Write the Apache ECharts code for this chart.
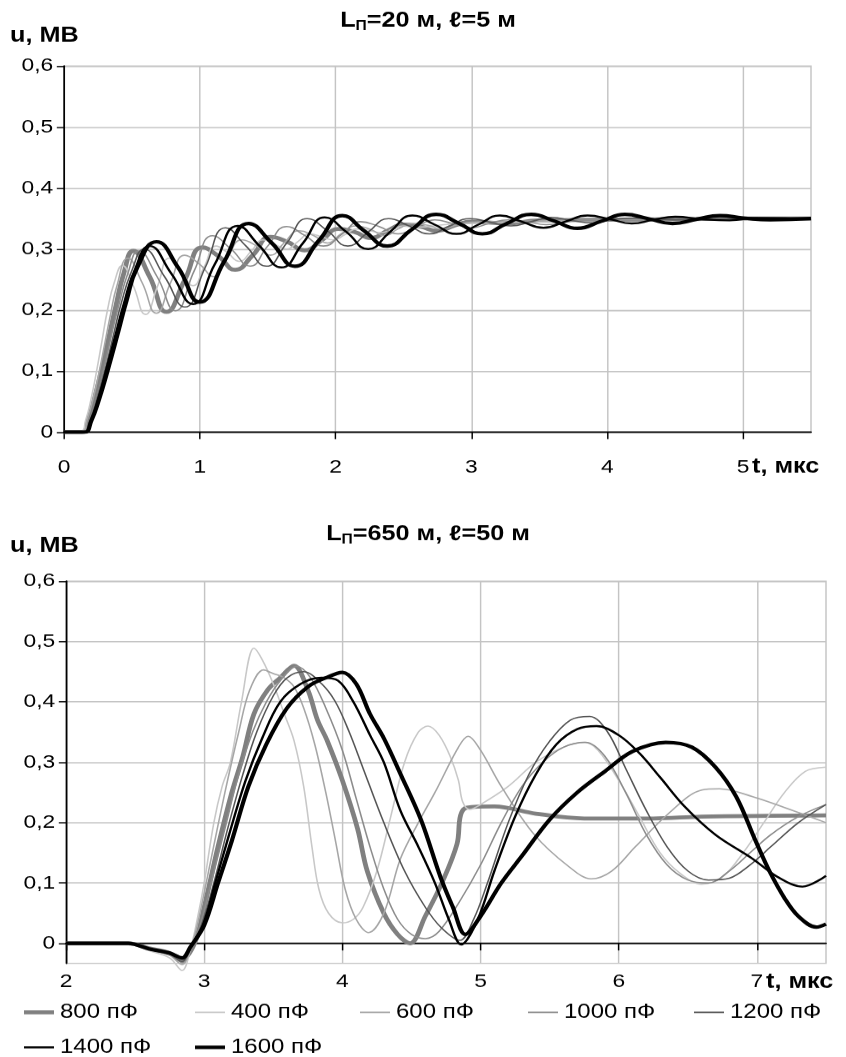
<!DOCTYPE html>
<html><head><meta charset="utf-8">
<script src="https://cdn.jsdelivr.net/npm/echarts@6/dist/echarts.min.js"></script>
<style>
html,body{margin:0;padding:0;background:#fff}
#wrap{width:846px;height:1057px;overflow:hidden}
#c{width:705px;height:1057px;transform:scaleX(1.2);transform-origin:0 0}
</style>
</head><body><div id="wrap"><div id="c"></div></div>
<script>
// ---------- DATA ----------
const seriesNames = ['800 пФ','400 пФ','600 пФ','1000 пФ','1200 пФ','1400 пФ','1600 пФ'];
const yTicks = [0,0.1,0.2,0.3,0.4,0.5,0.6];
const xTicksTop = [0,1,2,3,4,5];
const xTicksBot = [2,3,4,5,6,7];

// Top chart: L=20 m, l=5 m   [t (мкс), u (МВ)]
const top800 = [[0,0],[0.13,0],[0.18,0.02],[0.23,0.06],[0.28,0.105],[0.33,0.155],[0.38,0.205],[0.44,0.26],[0.51,0.297],[0.63,0.255],[0.755,0.197],[0.89,0.25],[1.02,0.303],[1.14,0.288],[1.26,0.266],[1.39,0.29],[1.52,0.32],[1.645,0.312],[1.77,0.298],[1.9,0.315],[2.02,0.333],[2.14,0.328],[2.26,0.318],[2.38,0.33],[2.5,0.34],[2.62,0.337],[2.75,0.33],[2.88,0.339],[3.0,0.345],[3.25,0.342],[3.5,0.347],[4.0,0.348],[4.5,0.349],[5.0,0.35],[5.5,0.35]];
const top400 = [[0,0],[0.12,0],[0.16,0.02],[0.2,0.055],[0.24,0.1],[0.28,0.15],[0.32,0.2],[0.37,0.245],[0.43,0.273],[0.51,0.24],[0.6,0.193],[0.69,0.24],[0.775,0.285],[0.86,0.265],[0.95,0.24],[1.03,0.27],[1.12,0.305],[1.2,0.295],[1.29,0.28],[1.38,0.297],[1.465,0.315],[1.55,0.308],[1.64,0.3],[1.72,0.312],[1.81,0.325],[1.9,0.32],[1.98,0.315],[2.07,0.324],[2.155,0.333],[2.24,0.331],[2.33,0.327],[2.42,0.333],[2.5,0.338],[2.6,0.336],[2.8,0.34],[3.0,0.342],[3.5,0.345],[4.0,0.347],[4.5,0.349],[5.0,0.35],[5.5,0.35]];
const top600 = [[0,0],[0.13,0],[0.17,0.02],[0.22,0.06],[0.26,0.1],[0.3,0.145],[0.34,0.19],[0.39,0.24],[0.47,0.285],[0.575,0.245],[0.68,0.195],[0.785,0.245],[0.89,0.29],[1.0,0.275],[1.1,0.255],[1.2,0.285],[1.31,0.315],[1.42,0.305],[1.52,0.29],[1.62,0.31],[1.73,0.33],[1.84,0.322],[1.94,0.31],[2.04,0.325],[2.15,0.338],[2.26,0.332],[2.36,0.322],[2.46,0.333],[2.57,0.342],[2.68,0.339],[2.78,0.333],[2.9,0.34],[3.0,0.344],[3.5,0.346],[4.0,0.348],[4.5,0.349],[5.0,0.35],[5.5,0.35]];
const top1000 = [[0,0],[0.14,0],[0.19,0.02],[0.24,0.055],[0.3,0.11],[0.35,0.16],[0.4,0.205],[0.47,0.26],[0.55,0.297],[0.685,0.255],[0.82,0.199],[0.96,0.265],[1.095,0.322],[1.23,0.3],[1.37,0.272],[1.5,0.305],[1.64,0.337],[1.775,0.322],[1.91,0.305],[2.05,0.325],[2.18,0.345],[2.32,0.337],[2.46,0.325],[2.6,0.338],[2.73,0.348],[2.86,0.342],[3.0,0.335],[3.13,0.342],[3.27,0.348],[3.41,0.345],[3.55,0.34],[3.8,0.347],[4.2,0.347],[4.6,0.35],[5.0,0.35],[5.5,0.35]];
const top1200 = [[0,0],[0.14,0],[0.19,0.018],[0.25,0.06],[0.3,0.1],[0.36,0.155],[0.42,0.21],[0.5,0.265],[0.59,0.30],[0.74,0.255],[0.89,0.205],[1.04,0.27],[1.19,0.335],[1.34,0.305],[1.49,0.272],[1.64,0.31],[1.79,0.35],[1.94,0.33],[2.09,0.305],[2.24,0.328],[2.39,0.35],[2.54,0.338],[2.69,0.325],[2.84,0.338],[2.99,0.35],[3.14,0.344],[3.29,0.338],[3.44,0.345],[3.59,0.352],[3.74,0.347],[3.89,0.343],[4.04,0.348],[4.2,0.351],[4.5,0.348],[5.0,0.35],[5.5,0.35]];
const top1400 = [[0,0],[0.15,0],[0.2,0.018],[0.26,0.06],[0.32,0.11],[0.38,0.16],[0.44,0.21],[0.52,0.265],[0.63,0.305],[0.79,0.26],[0.95,0.21],[1.11,0.275],[1.28,0.338],[1.44,0.305],[1.6,0.27],[1.76,0.31],[1.92,0.352],[2.08,0.328],[2.24,0.30],[2.4,0.328],[2.565,0.355],[2.73,0.34],[2.89,0.325],[3.05,0.34],[3.21,0.355],[3.37,0.345],[3.53,0.335],[3.69,0.345],[3.855,0.355],[4.02,0.349],[4.18,0.342],[4.34,0.348],[4.5,0.353],[4.7,0.349],[4.9,0.347],[5.1,0.351],[5.5,0.35]];
const top1600 = [[0,0],[0.15,0],[0.2,0.018],[0.26,0.055],[0.32,0.1],[0.4,0.165],[0.46,0.215],[0.54,0.27],[0.68,0.312],[0.84,0.27],[1.0,0.213],[1.18,0.28],[1.36,0.342],[1.53,0.31],[1.7,0.272],[1.88,0.315],[2.05,0.355],[2.21,0.33],[2.38,0.305],[2.56,0.332],[2.74,0.357],[2.91,0.342],[3.08,0.325],[3.26,0.342],[3.44,0.357],[3.61,0.346],[3.78,0.334],[3.96,0.346],[4.13,0.357],[4.3,0.35],[4.48,0.342],[4.66,0.349],[4.83,0.355],[5.0,0.351],[5.2,0.348],[5.5,0.35]];

// Bottom chart: L=650 m, l=50 m
const bot800 = [[2,0],[2.45,0],[2.6,-0.008],[2.75,-0.016],[2.84,-0.026],[2.93,0],[3.0,0.06],[3.1,0.16],[3.2,0.25],[3.28,0.31],[3.36,0.38],[3.46,0.42],[3.55,0.44],[3.65,0.46],[3.75,0.42],[3.82,0.37],[3.89,0.336],[4.0,0.27],[4.11,0.19],[4.18,0.12],[4.3,0.05],[4.4,0.015],[4.49,0.0],[4.6,0.045],[4.72,0.1],[4.83,0.165],[4.855,0.212],[4.9,0.225],[5.1,0.227],[5.4,0.215],[5.75,0.207],[6.25,0.207],[6.6,0.21],[7.5,0.212]];
const bot400 = [[2,0],[2.45,0],[2.6,-0.012],[2.75,-0.024],[2.84,-0.045],[2.9,-0.01],[2.95,0.04],[3.0,0.1],[3.07,0.2],[3.13,0.26],[3.19,0.3],[3.27,0.4],[3.36,0.489],[3.42,0.47],[3.5,0.43],[3.58,0.38],[3.65,0.336],[3.72,0.26],[3.78,0.16],[3.83,0.09],[3.9,0.05],[4.0,0.034],[4.08,0.04],[4.15,0.06],[4.25,0.12],[4.35,0.21],[4.45,0.3],[4.55,0.35],[4.62,0.36],[4.7,0.345],[4.78,0.31],[4.84,0.27],[4.87,0.235],[4.92,0.222],[5.0,0.23],[5.2,0.26],[5.4,0.3],[5.6,0.325],[5.75,0.333],[5.85,0.32],[6.0,0.27],[6.15,0.21],[6.3,0.15],[6.45,0.115],[6.6,0.098],[6.75,0.11],[6.9,0.15],[7.05,0.2],[7.2,0.25],[7.35,0.285],[7.5,0.292]];
const bot600 = [[2,0],[2.45,0],[2.6,-0.01],[2.75,-0.02],[2.84,-0.035],[2.9,-0.01],[2.95,0.03],[3.05,0.14],[3.15,0.25],[3.25,0.35],[3.33,0.42],[3.43,0.453],[3.5,0.447],[3.58,0.44],[3.65,0.425],[3.72,0.39],[3.8,0.33],[3.88,0.25],[3.95,0.17],[4.02,0.09],[4.1,0.04],[4.19,0.018],[4.3,0.05],[4.42,0.14],[4.55,0.2],[4.67,0.25],[4.84,0.325],[4.91,0.343],[5.0,0.32],[5.15,0.26],[5.39,0.18],[5.64,0.127],[5.8,0.107],[5.95,0.12],[6.12,0.16],[6.36,0.215],[6.6,0.254],[6.73,0.256],[6.97,0.243],[7.2,0.225],[7.5,0.2]];
const bot1000 = [[2,0],[2.45,0],[2.6,-0.01],[2.75,-0.018],[2.84,-0.032],[2.9,-0.01],[2.97,0.03],[3.05,0.1],[3.15,0.19],[3.25,0.28],[3.35,0.35],[3.45,0.4],[3.55,0.435],[3.67,0.459],[3.77,0.44],[3.88,0.39],[4.0,0.32],[4.1,0.24],[4.2,0.16],[4.3,0.09],[4.4,0.04],[4.5,0.015],[4.6,0.008],[4.7,0.02],[4.85,0.07],[5.0,0.13],[5.15,0.2],[5.3,0.26],[5.45,0.3],[5.6,0.325],[5.76,0.333],[5.9,0.31],[6.05,0.25],[6.2,0.18],[6.35,0.13],[6.5,0.105],[6.65,0.1],[6.8,0.12],[6.95,0.15],[7.1,0.18],[7.3,0.21],[7.5,0.23]];
const bot1200 = [[2,0],[2.45,0],[2.6,-0.01],[2.75,-0.018],[2.84,-0.03],[2.9,-0.008],[2.98,0.03],[3.07,0.1],[3.17,0.19],[3.28,0.28],[3.38,0.35],[3.5,0.41],[3.6,0.44],[3.72,0.45],[3.85,0.43],[3.95,0.4],[4.05,0.35],[4.15,0.29],[4.3,0.2],[4.45,0.12],[4.6,0.06],[4.72,0.025],[4.85,0.005],[4.95,0.04],[5.05,0.1],[5.2,0.2],[5.35,0.28],[5.5,0.335],[5.65,0.37],[5.79,0.376],[5.92,0.35],[6.05,0.29],[6.2,0.22],[6.35,0.16],[6.5,0.12],[6.65,0.105],[6.8,0.108],[6.95,0.13],[7.1,0.16],[7.3,0.2],[7.5,0.23]];
const bot1400 = [[2,0],[2.45,0],[2.6,-0.009],[2.75,-0.016],[2.84,-0.024],[2.9,-0.006],[2.99,0.03],[3.08,0.1],[3.18,0.18],[3.3,0.27],[3.42,0.34],[3.55,0.4],[3.7,0.43],[3.85,0.44],[3.97,0.435],[4.08,0.4],[4.2,0.345],[4.3,0.3],[4.42,0.22],[4.55,0.16],[4.67,0.1],[4.77,0.04],[4.86,-0.002],[4.98,0.04],[5.1,0.12],[5.25,0.21],[5.4,0.28],[5.55,0.33],[5.7,0.355],[5.84,0.36],[6.0,0.345],[6.15,0.315],[6.3,0.275],[6.48,0.226],[6.7,0.18],[6.97,0.14],[7.15,0.11],[7.33,0.094],[7.5,0.112]];
const bot1600 = [[2,0],[2.45,0],[2.6,-0.009],[2.75,-0.016],[2.84,-0.024],[2.9,-0.006],[3.0,0.03],[3.1,0.1],[3.2,0.17],[3.32,0.26],[3.45,0.33],[3.6,0.39],[3.75,0.425],[3.88,0.44],[4.0,0.449],[4.1,0.43],[4.2,0.38],[4.3,0.34],[4.42,0.281],[4.57,0.204],[4.71,0.11],[4.8,0.06],[4.89,0.015],[5.0,0.045],[5.15,0.1],[5.3,0.145],[5.5,0.205],[5.7,0.25],[5.9,0.285],[6.1,0.318],[6.34,0.333],[6.53,0.325],[6.7,0.292],[6.85,0.243],[6.99,0.17],[7.09,0.12],[7.2,0.075],[7.3,0.045],[7.43,0.027],[7.5,0.032]];

const topData = [top800, top400, top600, top1000, top1200, top1400, top1600];
const botData = [bot800, bot400, bot600, bot1000, bot1200, bot1400, bot1600];

// ---------- STYLE ----------
const SX = 1.2; // horizontal stretch of the reference picture
const F = "'Liberation Sans', Arial, sans-serif";
const lineStyles = [
  {color:'#808080', width:4},
  {color:'#c8c8c8', width:1.3},
  {color:'#a6a6a6', width:1.3},
  {color:'#8c8c8c', width:1.3},
  {color:'#555555', width:1.3},
  {color:'#000000', width:2},
  {color:'#000000', width:3.5}
];
const gridColor = '#c4c4c4';
const yFmt = v => v === 0 ? '0' : v.toFixed(1).replace('.', ',');
const px = v => v / SX;

function xAxisCfg(idx, min, max, ticks, margin) {
  return {
    type:'value', gridIndex:idx, min:min, max:max,
    axisLine:{show:true, onZero:true, lineStyle:{color:'#000', width:1.5}},
    axisTick:{show:true, length:7, customValues:ticks, lineStyle:{color:'#000', width:1.2}},
    axisLabel:{customValues:ticks, color:'#000', fontSize:19, fontFamily:F, margin:margin},
    splitLine:{show:true, lineStyle:{color:gridColor, width:1.2}}
  };
}
function yAxisCfg(idx, min) {
  return {
    type:'value', gridIndex:idx, min:min, max:0.6,
    axisLine:{show:true, lineStyle:{color:'#000', width:1.4}},
    axisTick:{show:true, length:6, customValues:yTicks, lineStyle:{color:'#000', width:1.2}},
    axisLabel:{customValues:yTicks, color:'#000', fontSize:19, fontFamily:F, margin:9, formatter:yFmt},
    splitLine:{show:true, lineStyle:{color:gridColor, width:1.3}}
  };
}

const series = [];
seriesNames.forEach((n, i) => {
  const ls = lineStyles[i];
  series.push({name:n, type:'line', xAxisIndex:0, yAxisIndex:0, data:topData[i],
    showSymbol:false, smooth:0.5, z:2+i,
    lineStyle:{color:ls.color, width:ls.width}, itemStyle:{color:ls.color}, animation:false});
  series.push({name:n, type:'line', xAxisIndex:1, yAxisIndex:1, data:botData[i],
    showSymbol:false, smooth:0.35, clip:false, z:2+i,
    lineStyle:{color:ls.color, width:ls.width}, itemStyle:{color:ls.color}, animation:false});
});

const legendPos = [[24,1002],[195,1002],[360,1002],[528,1002],[694,1002],[24,1037],[195,1037]];
const legends = seriesNames.map((n, i) => ({
  data:[n], left:px(legendPos[i][0]), top:legendPos[i][1], padding:0,
  icon:'rect', itemWidth:px(30), itemHeight:Math.max(1.5, lineStyles[i].width),
  textStyle:{color:'#000', fontSize:20, fontFamily:F}, selectedMode:false
}));

const rich = {
  a:{fontSize:21, fontWeight:'bold', fontFamily:F, fill:'#000'},
  s:{fontSize:13, fontWeight:'bold', fontFamily:F, fill:'#000', padding:[11,0,0,0]}
};
function boldText(x, y, t) {
  return {type:'text', x:px(x), y:y, style:{text:t, font:'bold 21px ' + F, fill:'#000', verticalAlign:'middle'}};
}

const option = {
  backgroundColor:'#fff',
  animation:false,
  grid:[
    {left:px(64), top:66, width:px(747), height:366, show:true, borderColor:gridColor, borderWidth:1.2, containLabel:false},
    {left:px(66), top:581, width:px(760), height:382, show:true, borderColor:gridColor, borderWidth:1.2, containLabel:false}
  ],
  xAxis:[xAxisCfg(0, 0, 5.5, xTicksTop, 26), xAxisCfg(1, 2, 7.5, xTicksBot, 9)],
  yAxis:[yAxisCfg(0, 0), yAxisCfg(1, -0.033)],
  legend:legends,
  series:series,
  graphic:[
    boldText(10, 36, 'u, МВ'),
    boldText(10, 546, 'u, МВ'),
    boldText(752, 467, 't, мкс'),
    boldText(766, 982, 't, мкс'),
    {type:'text', x:px(428), y:21, style:{text:'{a|L}{s|П}{a|=20 м, ℓ=5 м}', rich:rich, align:'center', verticalAlign:'middle'}},
    {type:'text', x:px(428), y:534, style:{text:'{a|L}{s|П}{a|=650 м, ℓ=50 м}', rich:rich, align:'center', verticalAlign:'middle'}}
  ]
};
const chart = echarts.init(document.getElementById('c'), null, {renderer:'canvas', devicePixelRatio:SX});
chart.setOption(option);
</script></body></html>
